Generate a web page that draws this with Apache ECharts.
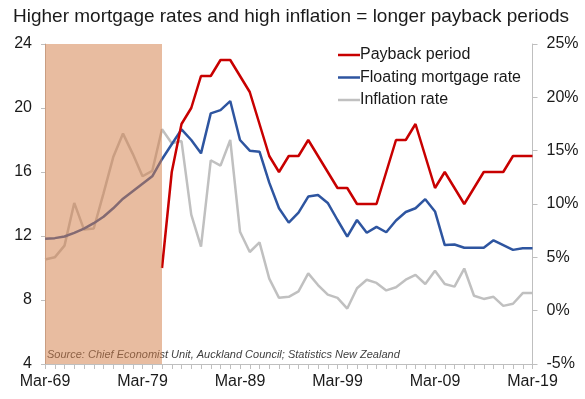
<!DOCTYPE html>
<html>
<head>
<meta charset="utf-8">
<script src="https://cdn.jsdelivr.net/npm/echarts@6/dist/echarts.min.js"></script>
<style>
html,body{margin:0;padding:0;background:#fff;}
#c{width:585px;height:399px;}
</style>
</head>
<body>
<div id="c"></div>
<script>
const categories = ['Mar-69','Mar-70','Mar-71','Mar-72','Mar-73','Mar-74','Mar-75','Mar-76','Mar-77','Mar-78',
  'Mar-79','Mar-80','Mar-81','Mar-82','Mar-83','Mar-84','Mar-85','Mar-86','Mar-87','Mar-88',
  'Mar-89','Mar-90','Mar-91','Mar-92','Mar-93','Mar-94','Mar-95','Mar-96','Mar-97','Mar-98',
  'Mar-99','Mar-00','Mar-01','Mar-02','Mar-03','Mar-04','Mar-05','Mar-06','Mar-07','Mar-08',
  'Mar-09','Mar-10','Mar-11','Mar-12','Mar-13','Mar-14','Mar-15','Mar-16','Mar-17','Mar-18','Mar-19'];

// Payback period (years, left axis)
const payback = [null,null,null,null,null,null,null,null,null,null,
  null,null,10,16,19,20,22,22,23,23,
  22,21,19,17,16,17,17,18,17,16,
  15,15,14,14,14,16,18,18,19,17,
  15,16,15,14,15,16,16,16,17,17,17];

// Floating mortgage rate (%, right axis)
const floating = [6.75,6.8,6.95,7.3,7.7,8.2,8.8,9.6,10.5,11.2,
  11.9,12.6,14.2,15.6,17.0,16.0,14.75,18.5,18.8,19.65,
  16.0,15.0,14.9,12.0,9.6,8.25,9.2,10.7,10.85,10.1,
  8.5,6.95,8.5,7.3,7.85,7.35,8.45,9.25,9.6,10.45,
  9.3,6.15,6.2,5.9,5.9,5.9,6.6,6.15,5.7,5.85,5.85];

// Inflation rate (%, right axis)
const inflation = [4.8,5.0,6.1,10.1,7.6,7.7,11.0,14.4,16.6,14.7,
  12.6,13.1,17.0,15.7,15.9,9.0,6.0,14.1,13.6,16.0,
  7.4,5.5,6.4,3.0,1.2,1.3,1.8,3.5,2.4,1.5,
  1.2,0.2,2.1,2.9,2.6,1.9,2.2,2.9,3.35,2.5,
  3.75,2.5,2.25,3.95,1.4,1.1,1.3,0.45,0.65,1.65,1.65];

const shadeFrom = 'Mar-69';
const shadeTo = 'Mar-81';

const FONT = "'Liberation Sans', Arial, sans-serif";
const chart = echarts.init(document.getElementById('c'), null, {renderer: 'canvas'});

chart.setOption({
  animation: false,
  backgroundColor: '#ffffff',
  title: [{
    text: 'Higher mortgage rates and high inflation = longer payback periods',
    left: 13, top: 7, padding: 0,
    textStyle: {fontFamily: FONT, fontSize: 19, fontWeight: 'normal', color: '#1a1a1a'}
  }, {
    text: 'Source: Chief Economist Unit, Auckland Council; Statistics New Zealand',
    left: 47, top: 349, padding: 0,
    textStyle: {fontFamily: FONT, fontSize: 11, fontStyle: 'italic', fontWeight: 'normal', color: '#404040'}
  }],
  legend: {
    data: ['Payback period', 'Floating mortgage rate', 'Inflation rate'],
    orient: 'vertical',
    left: 338, top: 47,
    icon: 'rect',
    itemWidth: 22, itemHeight: 2.5, itemGap: 6.5,
    padding: 0,
    textStyle: {fontFamily: FONT, fontSize: 16, color: '#1a1a1a', lineHeight: 16, padding: [0,0,0,-5]}
  },
  grid: {left: 45, right: 52.5, top: 44, bottom: 35, containLabel: false},
  xAxis: {
    type: 'category',
    data: categories,
    boundaryGap: false,
    axisLine: {onZero: false, lineStyle: {color: '#bfbfbf', width: 1}},
    axisTick: {show: true, interval: 0, length: 5, lineStyle: {color: '#bfbfbf'}},
    axisLabel: {interval: 9, margin: 10, fontFamily: FONT, fontSize: 16, color: '#1a1a1a'},
    splitLine: {show: false}
  },
  yAxis: [{
    type: 'value', min: 4, max: 24, interval: 4, position: 'left',
    axisLine: {show: true, lineStyle: {color: '#bfbfbf'}},
    axisTick: {show: true, length: 4, lineStyle: {color: '#bfbfbf'}},
    axisLabel: {margin: 13, fontFamily: FONT, fontSize: 16, color: '#1a1a1a'},
    splitLine: {show: false}
  }, {
    type: 'value', min: -5, max: 25, interval: 5, position: 'right',
    axisLine: {show: true, lineStyle: {color: '#bfbfbf'}},
    axisTick: {show: true, length: 5, lineStyle: {color: '#bfbfbf'}},
    axisLabel: {margin: 14, formatter: '{value}%', fontFamily: FONT, fontSize: 16, color: '#1a1a1a'},
    splitLine: {show: false}
  }],
  series: [{
    name: 'Inflation rate', type: 'line', yAxisIndex: 1, data: inflation,
    symbol: 'none', z: 2,
    lineStyle: {color: '#c0c0c0', width: 2.5}, itemStyle: {color: '#c0c0c0'}
  }, {
    name: 'Floating mortgage rate', type: 'line', yAxisIndex: 1, data: floating,
    symbol: 'none', z: 3,
    lineStyle: {color: '#2e55a0', width: 2.5}, itemStyle: {color: '#2e55a0'}
  }, {
    name: 'Payback period', type: 'line', yAxisIndex: 0, data: payback,
    symbol: 'none', z: 4, connectNulls: false,
    lineStyle: {color: '#c80000', width: 2.5}, itemStyle: {color: '#c80000'}
  }, {
    name: 'shade', type: 'line', yAxisIndex: 0, data: [],
    silent: true,
    markArea: {
      silent: true, z: 10,
      itemStyle: {color: 'rgba(211,126,72,0.52)'},
      data: [[{xAxis: shadeFrom}, {xAxis: shadeTo}]]
    }
  }]
});
</script>
</body>
</html>
